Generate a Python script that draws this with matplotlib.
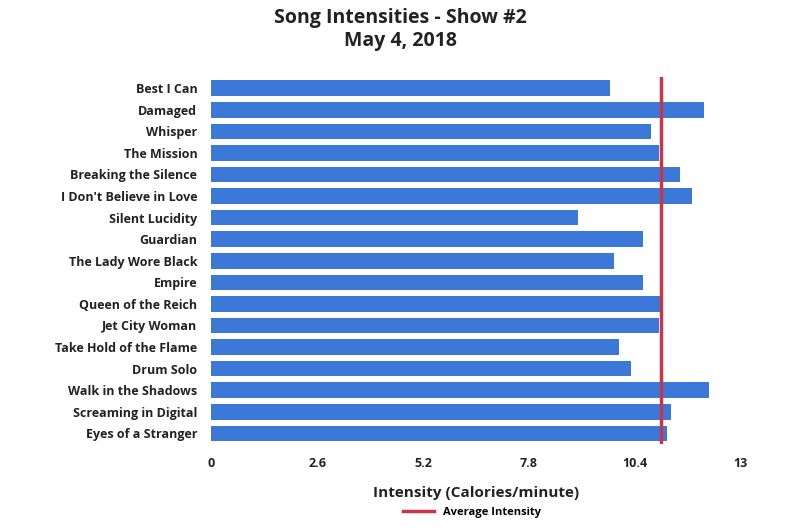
import matplotlib
matplotlib.use("Agg")
import matplotlib.pyplot as plt
from matplotlib.lines import Line2D

songs = ["Best I Can", "Damaged", "Whisper", "The Mission", "Breaking the Silence",
         "I Don't Believe in Love", "Silent Lucidity", "Guardian", "The Lady Wore Black",
         "Empire", "Queen of the Reich", "Jet City Woman", "Take Hold of the Flame",
         "Drum Solo", "Walk in the Shadows", "Screaming in Digital", "Eyes of a Stranger"]
intensity = [9.79, 12.09, 10.79, 10.99, 11.50, 11.80, 9.00, 10.60, 9.88, 10.60,
             11.09, 10.99, 10.01, 10.30, 12.21, 11.28, 11.18]
average = 11.04
xticks = [0, 2.6, 5.2, 7.8, 10.4, 13]
xtick_labels = ["0", "2.6", "5.2", "7.8", "10.4", "13"]

plt.rcParams['font.family'] = ['Open Sans', 'DejaVu Sans']
fig = plt.figure(figsize=(8, 5.3), dpi=100)
ax = fig.add_axes([0.264, 0.162, 0.662, 0.692])
y = list(range(len(songs)))
ax.barh(y, intensity, height=0.72, color="#3c78d8")
ax.axvline(average, color="#c9364a", lw=2.5, ymin=0.0, ymax=1.0)
ax.set_ylim(len(songs) - 0.5, -0.5)
ax.set_xlim(0, 13)
ax.set_yticks(y)
ax.set_yticklabels(songs, fontsize=9, fontweight='bold', color="#222222")
ax.set_xticks(xticks)
ax.set_xticklabels(xtick_labels, fontsize=9, fontweight='bold', color="#222222")
ax.tick_params(length=0, pad=10)
ax.tick_params(axis='x', pad=9)
for s in ax.spines.values():
    s.set_visible(False)
ax.set_xlabel("Intensity (Calories/minute)", fontsize=11, fontweight='bold', labelpad=12, color="#222222")
fig.suptitle("Song Intensities - Show #2\nMay 4, 2018", fontsize=14, fontweight='bold', y=0.985, color="#222222")
h = Line2D([0], [0], color="#c9364a", lw=2.5)
fig.legend([h], ["Average Intensity"], loc="center", bbox_to_anchor=(0.59, 0.033),
           frameon=False, prop={'size': 8, 'weight': 'bold'}, handlelength=2.8)
fig.savefig("out.png", dpi=100)
